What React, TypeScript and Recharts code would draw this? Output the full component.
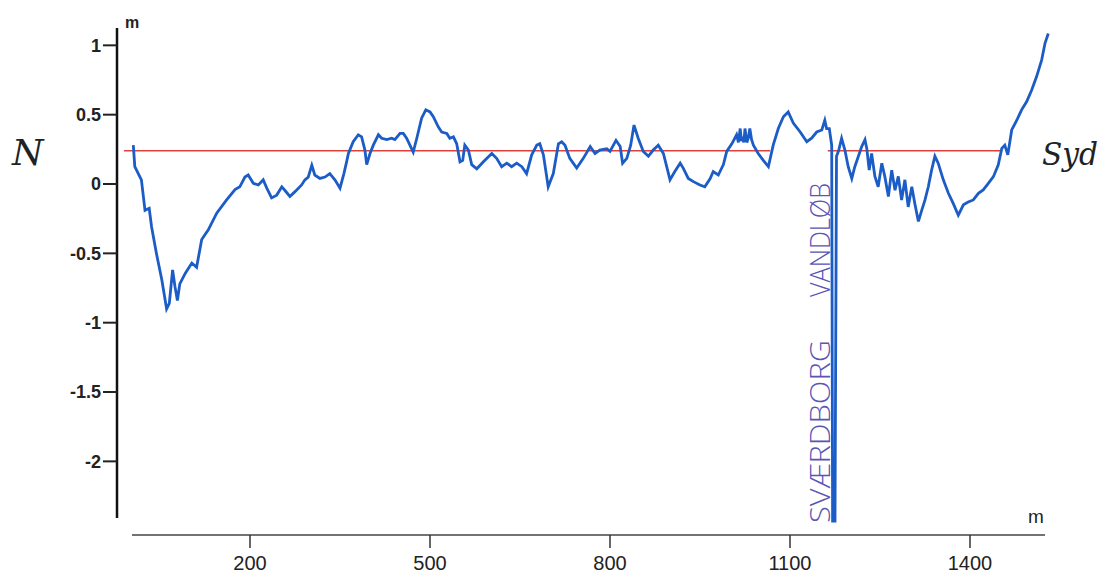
import React from 'react';
import { LineChart, Line, XAxis, YAxis, ReferenceLine } from 'recharts';

// distance along profile (m)
const distance = [
  5.5, 8, 19, 25, 32, 36, 44, 53, 61, 65.5, 71, 75, 79, 83, 92, 103, 111, 119.5, 130.5, 144.5,
  161, 175, 183, 191.5, 197, 205.5, 214, 222, 228, 236, 244.5, 253, 258, 266.5, 275, 286, 291.5, 297, 303, 308,
  316.5, 325, 333, 341.5, 350, 356.5, 361, 364, 372, 380.5, 386, 391.5, 394.5, 400, 405.5, 414, 419.5, 428, 436, 441.5,
  450, 455.5, 461, 466.5, 472, 478, 486, 493, 500, 505.5, 514, 519.5, 528, 533, 539, 544.5, 550, 554.5, 558, 564,
  569.5, 578, 589, 603, 611, 619.5, 628, 636, 644.5, 653, 661, 669.5, 678, 683, 689, 697, 705.5, 714, 719.5, 725,
  733, 744.5, 755.5, 767, 775, 783, 794.5, 800, 810, 817, 821, 828, 834.5, 840, 847, 855.5, 864, 872, 880.5, 889,
  894.5, 900, 908, 917, 922, 930.5, 939, 950, 958, 967, 972, 980.5, 989, 994.5, 1003, 1008, 1011, 1014, 1017, 1019, 1021, 1023, 1025, 1028, 1030.5,
  1033, 1036, 1039, 1047, 1055.5, 1064, 1072, 1080.5, 1089, 1097, 1105.5, 1117, 1128, 1136, 1144.5, 1153, 1158, 1161, 1165.5, 1169.5, 1171,
  1175, 1177.5, 1181, 1186, 1191.5, 1197, 1203, 1208, 1214, 1219.5, 1225, 1228, 1232, 1236, 1241.5, 1247, 1253, 1258, 1264, 1269.5,
  1275, 1280.5, 1286, 1291.5, 1297, 1303, 1308, 1314, 1319.5, 1325, 1330.5, 1336, 1341.5, 1347, 1355.5, 1364, 1372, 1380.5, 1389, 1397,
  1405.5, 1414, 1422, 1430.5, 1439, 1447, 1453, 1458, 1463, 1469.5, 1478, 1486, 1494.5, 1503, 1511, 1519.5, 1525, 1530.5,
];

// elevation relative to reference (m)
const elevation = [
  0.28, 0.125, 0.03, -0.19, -0.175, -0.31, -0.5, -0.69, -0.9, -0.86, -0.62, -0.74, -0.84, -0.72, -0.645, -0.57, -0.6, -0.4, -0.33, -0.21,
  -0.115, -0.04, -0.02, 0.05, 0.065, 0.005, -0.007, 0.03, -0.03, -0.1, -0.08, -0.02, -0.045, -0.09, -0.055, -0.007, 0.03, 0.05, 0.135, 0.065,
  0.04, 0.05, 0.075, 0.03, -0.03, 0.075, 0.16, 0.22, 0.305, 0.355, 0.34, 0.245, 0.14, 0.22, 0.28, 0.355, 0.33, 0.32, 0.33, 0.32,
  0.365, 0.365, 0.33, 0.28, 0.23, 0.33, 0.475, 0.535, 0.52, 0.485, 0.41, 0.375, 0.365, 0.33, 0.34, 0.29, 0.16, 0.17, 0.28, 0.245,
  0.14, 0.11, 0.16, 0.22, 0.185, 0.125, 0.15, 0.125, 0.15, 0.125, 0.075, 0.21, 0.28, 0.29, 0.21, -0.02, 0.075, 0.29, 0.305, 0.28,
  0.185, 0.115, 0.185, 0.27, 0.22, 0.245, 0.255, 0.235, 0.315, 0.27, 0.15, 0.185, 0.28, 0.425, 0.33, 0.235, 0.2, 0.245, 0.28, 0.22,
  0.125, 0.03, 0.09, 0.15, 0.115, 0.04, 0.017, -0.007, -0.02, 0.04, 0.09, 0.065, 0.14, 0.235, 0.29, 0.33, 0.355, 0.3, 0.4, 0.31, 0.34, 0.3, 0.4, 0.3, 0.33,
  0.4, 0.32, 0.28, 0.22, 0.17, 0.125, 0.28, 0.4, 0.485, 0.52, 0.44, 0.375, 0.305, 0.33, 0.375, 0.39, 0.46, 0.4, 0.4, 0.28, -2.43,
  -2.43, 0.2, 0.24, 0.33, 0.245, 0.125, 0.04, 0.125, 0.2, 0.27, 0.32, 0.255, 0.1, 0.22, 0.055, -0.02, 0.15, 0.055, -0.09, 0.1,
  -0.045, 0.055, -0.115, 0.03, -0.165, -0.02, -0.14, -0.27, -0.19, -0.115, -0.02, 0.1, 0.2, 0.15, 0.03, -0.067, -0.14, -0.225, -0.15, -0.13,
  -0.115, -0.067, -0.043, 0.005, 0.053, 0.137, 0.257, 0.28, 0.21, 0.39, 0.46, 0.535, 0.595, 0.68, 0.775, 0.895, 1.015, 1.085,
];

const xTicks = [200, 500, 800, 1100, 1400];
const yTicks = [-2, -1.5, -1, -0.5, 0, 0.5, 1];
const referenceLevel = 0.24;
const referenceSpans = [
  [-10, 1067],
  [1163, 1453],
];
const xDomain = [-21.67, 1533.33];
const yDomain = [-2.531, 1.125];
const yAxisExtent = [1.125, -2.408];
const xAxisExtent = [3.3, 1525];

const data = distance.map((d, i) => ({ d, h: elevation[i] }));

export default function App() {
  return (
    <div style={{ position: 'absolute', left: 0, top: 0, width: 1102, height: 574, background: '#fff', overflow: 'hidden' }}>
      <LineChart width={1102} height={574} data={data} margin={{ top: 28, right: 52, bottom: 0, left: 0 }}>
        <XAxis
          dataKey="d"
          type="number"
          domain={xDomain}
          allowDataOverflow
          ticks={xTicks}
          axisLine={false}
          tickSize={13}
          tickMargin={8}
          height={39}
          tickLine={{ stroke: '#333', strokeWidth: 1.5 }}
          tick={{ fontSize: 20, fill: '#222', fontFamily: 'Liberation Sans, Arial, sans-serif' }}
        />
        <YAxis
          type="number"
          domain={yDomain}
          allowDataOverflow
          ticks={yTicks}
          width={117}
          axisLine={false}
          tickSize={14}
          tickMargin={2}
          tickLine={{ stroke: '#222', strokeWidth: 2 }}
          tick={{ fontSize: 18, fill: '#222', fontWeight: 'bold', fontFamily: 'Liberation Sans, Arial, sans-serif' }}
        />
        <ReferenceLine
          segment={[{ x: xDomain[0], y: yAxisExtent[0] }, { x: xDomain[0], y: yAxisExtent[1] }]}
          stroke="#111"
          strokeWidth={2.5}
          ifOverflow="visible"
        />
        <ReferenceLine
          segment={[{ x: xAxisExtent[0], y: yDomain[0] }, { x: xAxisExtent[1], y: yDomain[0] }]}
          stroke="#444"
          strokeWidth={1.5}
          ifOverflow="visible"
        />
        {referenceSpans.map(([a, b], i) => (
          <ReferenceLine
            key={i}
            segment={[{ x: a, y: referenceLevel }, { x: b, y: referenceLevel }]}
            stroke="#e0403a"
            strokeWidth={1.6}
            ifOverflow="visible"
          />
        ))}
        <Line
          type="linear"
          dataKey="h"
          stroke="#1c5cc6"
          strokeWidth={2.8}
          dot={false}
          isAnimationActive={false}
        />
        <text x={125} y={28} fontSize={16} fontWeight="bold" fill="#222" fontFamily="Liberation Sans, Arial, sans-serif">m</text>
        <text x={1028} y={523} fontSize={19} fill="#222" fontFamily="Liberation Sans, Arial, sans-serif">m</text>
        <text x={12} y={165} fontSize={36} fontStyle="italic" fill="#222" fontFamily="DejaVu Serif, serif">N</text>
        <text
          x={1042}
          y={165}
          fontSize={32}
          fontStyle="italic"
          fill="#222"
          fontFamily="DejaVu Serif, serif"
          textLength={56}
          lengthAdjust="spacingAndGlyphs"
        >
          Syd
        </text>
        <text
          transform="translate(830, 523) rotate(-90)"
          fontSize={28}
          fill="#5a55b5"
          fontWeight={300}
          fontFamily="Open Sans, sans-serif"
          textLength={183}
          lengthAdjust="spacingAndGlyphs"
        >
          SVÆRDBORG
        </text>
        <text
          transform="translate(830, 297) rotate(-90)"
          fontSize={28}
          fill="#5a55b5"
          fontWeight={300}
          fontFamily="Open Sans, sans-serif"
          textLength={114}
          lengthAdjust="spacingAndGlyphs"
        >
          VANDLØB
        </text>
      </LineChart>
    </div>
  );
}
